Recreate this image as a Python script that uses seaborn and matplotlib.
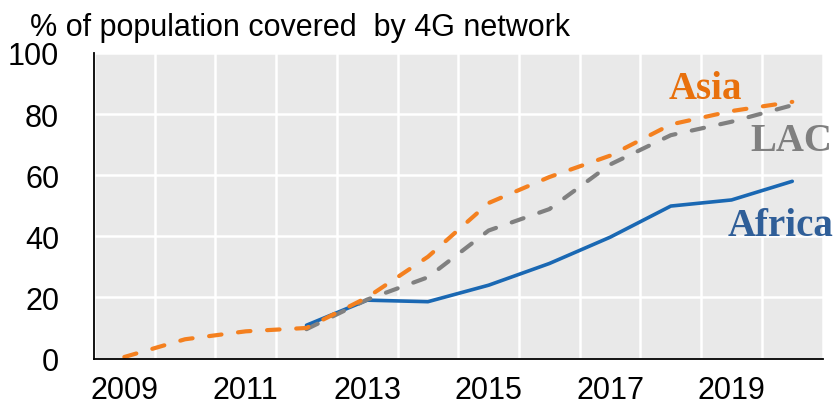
import matplotlib
matplotlib.use('Agg')
import matplotlib.pyplot as plt
import numpy as np
import pandas as pd
import seaborn as sns

# Dados
years = list(range(2009, 2021))
asia = [0.5, 6.3, 8.9, 10.0, 20.0, 33.3, 50.9, 59.4, 66.4, 76.6, 81.0, 84.0]
lac = [np.nan, np.nan, np.nan, 9.6, 19.3, 26.6, 41.9, 48.9, 63.5, 73.1, 77.5, 82.9]
africa = [np.nan, np.nan, np.nan, 10.9, 19.1, 18.6, 24.0, 31.1, 39.7, 49.9, 51.9, 58.0]
label_years = [2009, 2011, 2013, 2015, 2017, 2019]
title = '% of population covered  by 4G network'

df = pd.DataFrame({'year': years, 'Asia': asia, 'LAC': lac, 'Africa': africa})

sns.set_theme(style='white')
plt.rcParams['font.family'] = ['Liberation Sans', 'DejaVu Sans']

fig = plt.figure(figsize=(8.36, 4.14), dpi=100)
ax = fig.add_axes([0.1124, 0.1316, 0.8716, 0.738])
ax.set_facecolor('#e9e9e9')

# Linhas
sns.lineplot(data=df, x='year', y='Africa', ax=ax, color='#1a68b3', lw=2.6)
sns.lineplot(data=df, x='year', y='LAC', ax=ax, color='#808080', lw=3.0)
sns.lineplot(data=df, x='year', y='Asia', ax=ax, color='#f4801f', lw=3.0)
for ln in ax.lines[1:]:
    ln.set_dashes((3.0, 4.0))
    ln.set_dash_capstyle('round')

# Eixos
ax.set_xlim(2008.5, 2020.5)
ax.set_ylim(0, 100)
ax.set_xticks(np.arange(2008.5, 2021, 1))
ax.set_xticklabels([])
ax.set_xticks(label_years, minor=True)
ax.set_xticklabels([str(y) for y in label_years], minor=True)
ax.set_yticks(range(0, 101, 20))
ax.tick_params(axis='x', which='major', direction='in', length=10, width=1.3, color='black')
ax.tick_params(axis='x', which='minor', length=0, pad=12, labelsize=22, labelcolor='black')
ax.tick_params(axis='y', direction='in', length=10, width=1.3, color='black', pad=25,
               labelsize=22, labelcolor='black')
ax.grid(True, which='major', color='white', lw=1.8)
ax.set_axisbelow(True)
ax.set_xlabel('')
ax.set_ylabel('')

for s in ['top', 'right']:
    ax.spines[s].set_visible(False)
for s in ['left', 'bottom']:
    ax.spines[s].set_color('black')
    ax.spines[s].set_linewidth(1.3)

# Rótulos das séries
serif = ['Liberation Serif', 'DejaVu Serif']
ax.text(2017.97, 85.2, 'Asia', color='#e8700c', fontsize=28, fontweight='bold', family=serif,
        ha='left', va='baseline')
ax.text(2020.5 + 10 / 60.7, 68.3, 'LAC', color='#7f7f7f', fontsize=28, fontweight='bold',
        family=serif, ha='right', va='baseline', clip_on=False)
ax.text(2020.5 + 11 / 60.7, 40.4, 'Africa', color='#2f5e98', fontsize=28, fontweight='bold',
        family=serif, ha='right', va='baseline', clip_on=False)

fig.text(30 / 836, 1 - 36 / 414, title, fontsize=22, ha='left', va='baseline', color='black')

fig.savefig('out.png', dpi=100)
